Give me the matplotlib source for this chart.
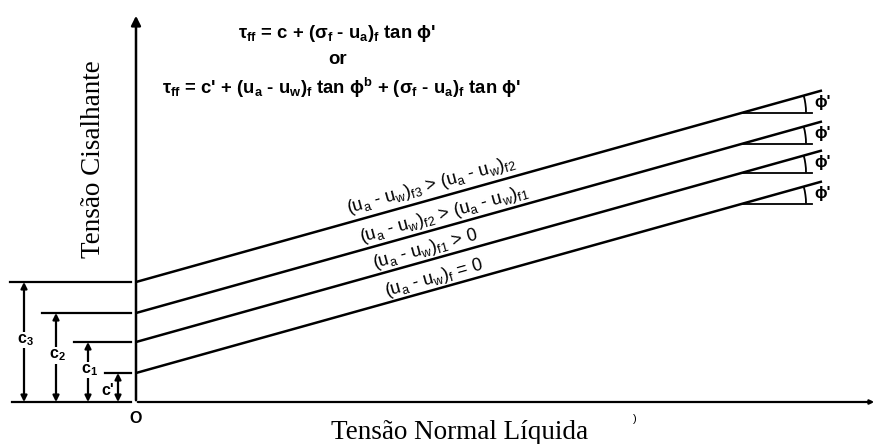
import numpy as np
import matplotlib
matplotlib.use("Agg")
import matplotlib.pyplot as plt
from matplotlib.patches import Arc

plt.rcParams['mathtext.default'] = 'regular'
SANS = ['Liberation Sans', 'DejaVu Sans']
SERIF = ['Liberation Serif', 'DejaVu Serif']

# envelope data (diagram units = pixels above/right of origin)
intercepts = [29, 60, 89, 120]          # c', c1, c2, c3
c_labels = ["c'", "c$_1$", "c$_2$", "c$_3$"]
phi_deg = 15.6
x_end = 686
line_labels = [r"(u$_a$ - u$_w$)$_f$ = 0",
               r"(u$_a$ - u$_w$)$_{f1}$ > 0",
               r"(u$_a$ - u$_w$)$_{f2}$ > (u$_a$ - u$_w$)$_{f1}$",
               r"(u$_a$ - u$_w$)$_{f3}$ > (u$_a$ - u$_w$)$_{f2}$"]
label_x = [249, 237, 224, 211]          # left end of each label
label_off = [12, 11.5, 12.5, 14]
dim_x = [-18, -48, -80, -112]           # arrow positions of the c dimensions
tick_left = [-31, -62, -94, -126]

tanphi = np.tan(np.radians(phi_deg))

fig = plt.figure(figsize=(8.77, 4.44), dpi=100)
ax = fig.add_axes([0, 0, 1, 1])
ax.set_xlim(-136, 741)
ax.set_ylim(-42, 402)
ax.axis('off')

# axes with arrows
ax.annotate('', xy=(0, 389), xytext=(0, -1),
            arrowprops=dict(arrowstyle='-|>', lw=1.8, color='k', mutation_scale=14))
ax.annotate('', xy=(741, 0), xytext=(-1, 0),
            arrowprops=dict(arrowstyle='-|>', lw=1.6, color='k', mutation_scale=6))
ax.plot([-124, -5], [0, 0], color='k', lw=1.6)

xs = np.array([0, x_end])
for c, lab, lx, off, dx, tl in zip(intercepts, line_labels, label_x, label_off, dim_x, tick_left):
    ax.plot(xs, c + xs * tanphi, color='k', lw=1.8, solid_capstyle='butt')
    # label along the line
    ax.text(lx, c + lx * tanphi + off, lab, rotation=phi_deg, rotation_mode='anchor',
            ha='left', va='center', fontsize=13, family=SANS)
    # phi' construction
    x0 = 607
    y0 = c + x0 * tanphi
    ax.plot([x0, 676], [y0, y0], color='k', lw=1.3)
    ax.add_patch(Arc((x0, y0), 126, 126, theta1=0, theta2=phi_deg, color='k', lw=1.3))
    ax.text(687, y0 + 10, "ϕ'", ha='center', va='center', fontsize=12,
            fontweight='bold', family=SANS)
    # c dimension
    ax.plot([tl, -5], [c, c], color='k', lw=1.6)
    ax.annotate('', xy=(dx, c), xytext=(dx, 0),
                arrowprops=dict(arrowstyle='<|-|>', lw=1.6, color='k', mutation_scale=9,
                                shrinkA=0, shrinkB=0))

for c, dx, cl in zip(intercepts[1:], dim_x[1:], c_labels[1:]):
    ax.text(dx + 1, c / 2 + 2, cl, ha='center', va='center', fontsize=11.5,
            fontweight='bold', family=SANS,
            bbox=dict(facecolor='white', edgecolor='none', pad=0.5))
ax.text(-28, 12, c_labels[0], ha='center', va='center', fontsize=11.5,
        fontweight='bold', family=SANS)

ax.text(0, -16, 'O', ha='center', va='center', fontsize=11.5, fontweight='bold', family=SANS)

# equations
ax.text(201, 369, r"τ$_{ff}$ = c + (σ$_f$ - u$_a$)$_f$ tan ϕ'", ha='center', va='center',
        fontsize=13.3, fontweight='bold', family=SANS)
ax.text(202, 342, "or", ha='center', va='center', fontsize=13.3, fontweight='bold', family=SANS)
ax.text(205, 314, r"τ$_{ff}$ = c' + (u$_a$ - u$_w$)$_f$ tan ϕ$^b$ + (σ$_f$ - u$_a$)$_f$ tan ϕ'",
        ha='center', va='center', fontsize=13.3, fontweight='bold', family=SANS)

# axis titles
ax.text(-43, 243, 'Tensão Cisalhante', rotation=90, ha='center', va='center',
        fontsize=19.5, family=SERIF)
ax.text(324, -30, 'Tensão Normal Líquida', ha='center', va='center',
        fontsize=19.5, family=SERIF)
ax.text(499, -17, ')', ha='center', va='center', fontsize=8, family=SANS)

fig.savefig('out.png', dpi=100)
